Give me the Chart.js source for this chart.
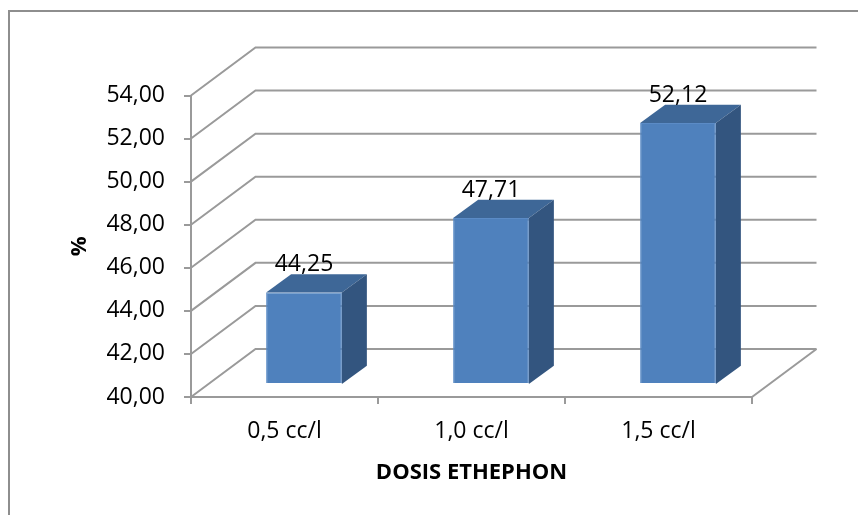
<!DOCTYPE html>
<html>
<head>
<meta charset="utf-8">
<script src="https://cdn.jsdelivr.net/npm/chart.js@4/dist/chart.umd.min.js"></script>
<style>
  html, body { margin: 0; padding: 0; background: #ffffff; }
  #wrap { width: 858px; height: 515px; position: relative; }
</style>
</head>
<body>
<div id="wrap"><canvas id="chart" width="858" height="515"></canvas></div>
<script>
// Dosis de ethephon y porcentaje obtenido
const categories = ['0,5 cc/l', '1,0 cc/l', '1,5 cc/l'];
const values = [44.25, 47.71, 52.12];
const yMin = 40;
const yMax = 54;
const yStep = 2;
const xTitle = 'DOSIS ETHEPHON';
const yTitle = '%';

const FONT = '"Open Sans", "Liberation Sans", sans-serif';
const GRID = '#9a9a9a';

// 3D geometry: back wall offset, bar offset inside the floor, bar depth
const WALL_DX = 64.5, WALL_DY = -48;
const BAR_DX = 19.5, BAR_DY = -13;
const DEPTH_DX = 25, DEPTH_DY = -18.3;

const fmt = v => v.toFixed(2).replace('.', ',');

const frame3d = {
  id: 'frame3d',
  beforeDraw(chart) {
    const ctx = chart.ctx;
    // outer frame of the chart object
    ctx.save();
    ctx.strokeStyle = '#8e8e8e';
    ctx.lineWidth = 2;
    ctx.strokeRect(9, 11, 900, 560);
    ctx.restore();
  },
  beforeDatasetsDraw(chart) {
    const ctx = chart.ctx;
    const a = chart.chartArea;
    const ys = chart.scales.y;
    ctx.save();
    ctx.strokeStyle = GRID;
    ctx.lineWidth = 2;
    ctx.lineJoin = 'miter';
    // side wall diagonals and back wall gridlines
    ys.ticks.forEach(t => {
      const y = ys.getPixelForValue(t.value);
      ctx.beginPath();
      ctx.moveTo(a.left, y);
      ctx.lineTo(a.left + WALL_DX, y + WALL_DY);
      ctx.lineTo(a.right + WALL_DX, y + WALL_DY);
      ctx.stroke();
    });
    // right edge of the floor
    const yb = ys.getPixelForValue(yMin);
    ctx.beginPath();
    ctx.moveTo(a.right, yb);
    ctx.lineTo(a.right + WALL_DX, yb + WALL_DY);
    ctx.stroke();
    ctx.restore();
  },
  beforeDatasetDraw(chart) {
    chart.ctx.save();
    chart.ctx.translate(BAR_DX, BAR_DY);
  },
  afterDatasetDraw(chart, args) {
    const ctx = chart.ctx;
    ctx.restore();
    const meta = chart.getDatasetMeta(args.index);
    const ys = chart.scales.y;
    const basePx = ys.getPixelForValue(yMin);
    ctx.save();
    meta.data.forEach((bar, i) => {
      const p = bar.getProps(['x', 'y', 'width'], true);
      const L = p.x - p.width / 2 + BAR_DX;
      const R = p.x + p.width / 2 + BAR_DX;
      const T = p.y + BAR_DY;
      const B = basePx + BAR_DY;
      // top face
      ctx.fillStyle = '#3e6797';
      ctx.beginPath();
      ctx.moveTo(L, T);
      ctx.lineTo(L + DEPTH_DX, T + DEPTH_DY);
      ctx.lineTo(R + DEPTH_DX, T + DEPTH_DY);
      ctx.lineTo(R, T);
      ctx.closePath();
      ctx.fill();
      // side face
      ctx.fillStyle = '#33557f';
      ctx.beginPath();
      ctx.moveTo(R, T);
      ctx.lineTo(R + DEPTH_DX, T + DEPTH_DY);
      ctx.lineTo(R + DEPTH_DX, B + DEPTH_DY);
      ctx.lineTo(R, B);
      ctx.closePath();
      ctx.fill();
      // value label
      ctx.fillStyle = '#000000';
      ctx.font = '23px ' + FONT;
      ctx.textAlign = 'center';
      ctx.textBaseline = 'middle';
      ctx.fillText(fmt(values[i]), (L + R) / 2, T - 28);
    });
    ctx.restore();
  }
};

new Chart(document.getElementById('chart'), {
  type: 'bar',
  data: {
    labels: categories,
    datasets: [{
      data: values,
      base: yMin,
      backgroundColor: '#4f81bd',
      borderColor: '#5b8bc6',
      borderWidth: 1,
      categoryPercentage: 1,
      barPercentage: 0.405
    }]
  },
  options: {
    responsive: false,
    animation: false,
    devicePixelRatio: 1,
    layout: { padding: { left: 0, top: 95.5, right: 106, bottom: 0 } },
    plugins: {
      legend: { display: false },
      tooltip: { enabled: false }
    },
    scales: {
      x: {
        offset: true,
        grid: { drawOnChartArea: false, offset: true, tickLength: 7, color: GRID, lineWidth: 2 },
        border: { display: true, color: GRID, width: 2 },
        ticks: { color: '#000000', font: { family: FONT, size: 23 }, padding: 14, maxRotation: 0 },
        title: {
          display: true, text: xTitle, color: '#000000',
          font: { family: FONT, size: 22, weight: 'bold' },
          padding: { top: 0, bottom: 29 }
        },
        afterFit(s) { s.height = 118; }
      },
      y: {
        min: yMin,
        max: yMax,
        grid: { drawOnChartArea: false, tickLength: 7, color: GRID, lineWidth: 2 },
        border: { display: true, color: GRID, width: 2 },
        ticks: {
          stepSize: yStep, color: '#000000', padding: 19,
          font: { family: FONT, size: 23 },
          callback: v => fmt(v)
        },
        title: {
          display: true, text: yTitle, color: '#000000',
          font: { family: FONT, size: 22, weight: 'bold' },
          padding: { top: 67, bottom: 0 }
        },
        afterFit(s) { s.width = 191; }
      }
    }
  },
  plugins: [frame3d]
});
</script>
</body>
</html>
